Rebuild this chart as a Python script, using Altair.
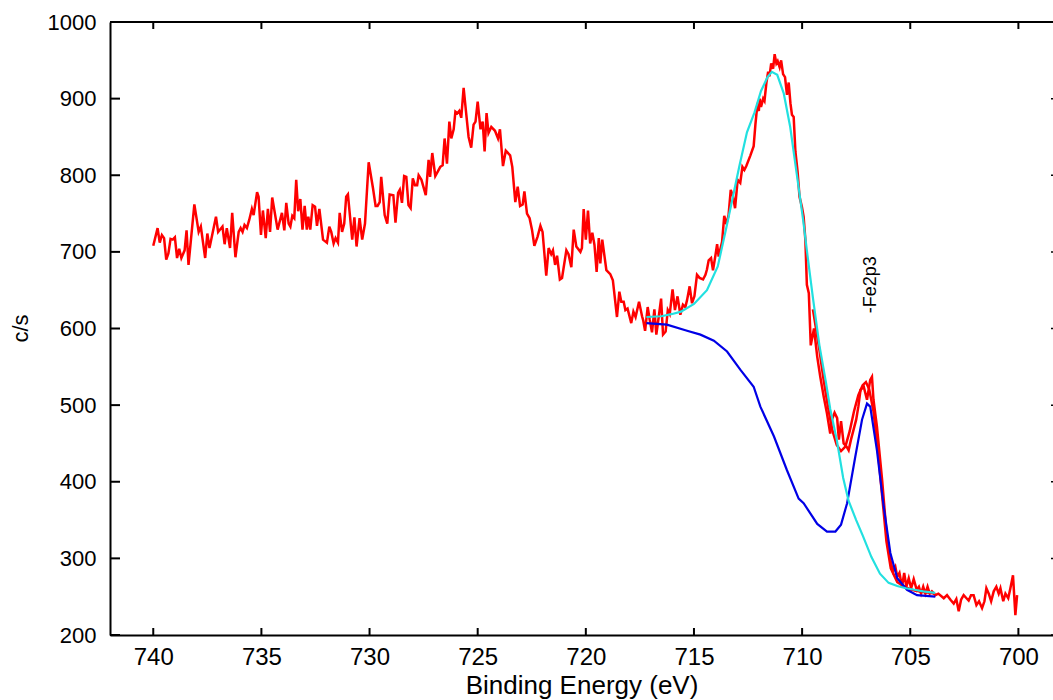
import altair as alt
import pandas as pd

# ---------------- data ----------------
red_energy = [
    740.00, 739.80, 739.70, 739.60, 739.50, 739.40, 739.30, 739.20, 739.10, 739.00,
    738.90, 738.80, 738.70, 738.55, 738.46, 738.37, 738.10, 737.90, 737.80, 737.60,
    737.50, 737.40, 737.10, 737.00, 736.80, 736.70, 736.60, 736.45, 736.35, 736.20,
    736.05, 735.96, 735.87, 735.78, 735.67, 735.56, 735.44, 735.36, 735.20, 735.13,
    735.02, 734.93, 734.80, 734.70, 734.60, 734.50, 734.25, 734.05, 733.94, 733.85,
    733.74, 733.66, 733.57, 733.48, 733.39, 733.30, 733.20, 733.10, 733.00, 732.90,
    732.83, 732.74, 732.63, 732.52, 732.43, 732.32, 732.15, 731.97, 731.86, 731.77,
    731.66, 731.57, 731.46, 731.38, 731.27, 731.17, 731.08, 731.00, 730.80, 730.70,
    730.60, 730.46, 730.34, 730.21, 730.04, 729.84, 729.72, 729.63, 729.53, 729.46,
    729.30, 729.18, 729.07, 728.90, 728.80, 728.68, 728.60, 728.50, 728.40, 728.30,
    728.20, 728.10, 728.00, 727.90, 727.80, 727.73, 727.60, 727.40, 727.27, 727.20,
    727.10, 726.96, 726.84, 726.73, 726.62, 726.53, 726.42, 726.31, 726.22, 726.11,
    726.03, 725.94, 725.85, 725.76, 725.65, 725.54, 725.42, 725.30, 725.19, 725.10,
    725.00, 724.87, 724.77, 724.68, 724.59, 724.50, 724.37, 724.20, 724.06, 723.97,
    723.83, 723.70, 723.50, 723.40, 723.26, 723.15, 723.04, 722.92, 722.84, 722.72,
    722.60, 722.49, 722.38, 722.23, 722.10, 722.00, 721.83, 721.72, 721.60, 721.52,
    721.42, 721.33, 721.20, 721.10, 720.90, 720.80, 720.67, 720.56, 720.44, 720.25,
    720.18, 720.10, 720.00, 719.90, 719.80, 719.70, 719.60, 719.50, 719.40, 719.33,
    719.24, 719.05, 718.87, 718.75, 718.56, 718.45, 718.36, 718.25, 718.17, 718.07,
    717.90, 717.80, 717.70, 717.54, 717.40, 717.35, 717.26, 717.14, 717.05, 716.94,
    716.83, 716.74, 716.63, 716.52, 716.43, 716.31, 716.21, 716.12, 715.99, 715.88,
    715.76, 715.63, 715.51, 715.40, 715.32, 715.20, 715.09, 714.98, 714.86, 714.74,
    714.58, 714.47, 714.40, 714.32, 714.21, 714.12, 714.01, 713.93, 713.86, 713.70,
    713.60, 713.50, 713.40, 713.30, 713.20, 713.10, 712.98, 712.86, 712.76, 712.67,
    712.58, 712.39, 712.24, 712.16, 712.08, 712.00, 711.96, 711.90, 711.80, 711.74,
    711.65, 711.57, 711.51, 711.43, 711.34, 711.27, 711.19, 711.13, 711.04, 710.97,
    710.88, 710.79, 710.70, 710.62, 710.54, 710.47, 710.39, 710.31, 710.21, 710.12,
    710.01, 709.93, 709.85, 709.78, 709.69, 709.60, 709.45, 709.30, 709.16, 709.00,
    708.85, 708.70, 708.62, 708.50, 708.38, 708.30, 708.20, 708.08, 707.95, 707.85,
    707.74, 707.62, 707.50, 707.40, 707.30, 707.15, 707.00, 706.85, 706.77, 706.70,
    706.54, 706.30, 706.07, 705.92, 705.80, 705.69, 705.60, 705.50, 705.38, 705.28,
    705.18, 705.07, 704.96, 704.84, 704.70, 704.60, 704.50, 704.40, 704.30, 704.20,
    704.10, 704.00, 703.84, 703.70, 703.45, 703.30, 703.14, 702.99, 702.87, 702.76,
    702.65, 702.53, 702.40, 702.30, 702.19, 702.07, 701.94, 701.82, 701.68, 701.57,
    701.48, 701.37, 701.26, 701.14, 701.02, 700.91, 700.83, 700.70, 700.60, 700.47,
    700.37, 700.25, 700.14, 700.06,
]
red_counts = [
    708, 731, 712, 722, 718, 690, 698, 717, 716, 719,
    692, 704, 692, 702, 728, 683, 762, 726, 733, 692,
    724, 705, 746, 726, 733, 710, 731, 705, 751, 693,
    726, 731, 726, 735, 731, 742, 756, 748, 778, 772,
    722, 754, 718, 756, 726, 771, 729, 751, 728, 764,
    737, 733, 747, 744, 794, 753, 769, 729, 760, 729,
    746, 729, 761, 759, 734, 756, 716, 712, 733, 726,
    711, 718, 712, 751, 726, 737, 772, 775, 716, 745,
    707, 744, 716, 737, 817, 783, 760, 760, 765, 798,
    748, 737, 775, 774, 738, 777, 781, 764, 799, 798,
    761, 757, 796, 787, 787, 800, 794, 774, 820, 798,
    829, 799, 805, 811, 813, 848, 815, 870, 848, 860,
    883, 881, 884, 875, 914, 883, 850, 836, 866, 870,
    896, 860, 870, 831, 881, 855, 863, 858, 848, 860,
    812, 832, 826, 811, 765, 785, 760, 762, 779, 750,
    744, 729, 708, 720, 734, 726, 669, 705, 697, 702,
    683, 695, 664, 666, 702, 697, 680, 729, 707, 700,
    705, 756, 716, 754, 711, 725, 709, 674, 718, 685,
    716, 676, 671, 663, 615, 648, 635, 635, 624, 626,
    607, 622, 615, 635, 616, 611, 597, 628, 612, 595,
    625, 592, 615, 639, 592, 596, 624, 619, 651, 624,
    642, 618, 631, 628, 637, 655, 633, 642, 670, 666,
    664, 670, 677, 689, 692, 676, 695, 710, 694, 713,
    747, 736, 748, 781, 773, 757, 794, 790, 811, 807,
    812, 826, 838, 866, 889, 884, 900, 889, 900, 897,
    921, 935, 929, 946, 939, 958, 946, 949, 941, 950,
    932, 928, 905, 921, 894, 879, 876, 831, 805, 772,
    759, 746, 716, 657, 646, 578, 600, 563, 537, 511,
    489, 463, 481, 490, 483, 455, 479, 450, 446, 441,
    455, 468, 481, 498, 520, 524, 507, 533, 537, 507,
    472, 402, 324, 298, 283, 289, 276, 281, 263, 281,
    263, 274, 261, 273, 259, 263, 254, 263, 254, 263,
    254, 257, 252, 254, 248, 252, 246, 241, 247, 231,
    246, 252, 248, 245, 252, 252, 239, 244, 235, 244,
    261, 254, 244, 257, 263, 254, 261, 244, 254, 248,
    261, 278, 226, 252,
]

envelope_energy = [709.5, 709.2, 709.0, 708.8, 708.6, 708.4, 708.2, 708.0, 707.8, 707.6,
                   707.4, 707.2, 707.05, 706.9, 706.7, 706.5, 706.3, 706.1, 705.9, 705.6,
                   705.2, 704.8, 704.4, 703.85]
envelope_counts = [625, 572, 532, 497, 467, 448, 440, 446, 466, 492,
                   513, 526, 530, 521, 492, 442, 382, 322, 287, 269,
                   262, 258, 256, 254]

cyan_energy = [717.2, 716.5, 716.0, 715.6, 715.0, 714.4, 713.9, 713.5, 713.2, 712.9,
               712.55, 712.2, 711.9, 711.6, 711.4, 711.15, 710.85, 710.55, 710.25, 709.95,
               709.75, 709.5, 709.2, 708.9, 708.7, 708.4, 708.1, 707.85, 707.5, 707.2,
               706.8, 706.4, 706.0, 705.6, 705.2, 704.8, 704.4, 703.85]
cyan_counts = [615, 616, 619, 622, 632, 650, 681, 732, 772, 812,
               856, 882, 910, 928, 935, 931, 907, 863, 802, 741,
               695, 640, 578, 530, 495, 455, 405, 375, 350, 330,
               302, 280, 268, 264, 261, 259, 257, 255]

blue_energy = [717.2, 716.25, 715.32, 714.7, 714.08, 713.47, 712.85, 712.24, 711.93, 711.3,
               710.7, 710.16, 709.93, 709.3, 708.85, 708.46, 708.2, 707.92, 707.54, 707.23,
               707.0, 706.85, 706.54, 706.23, 705.92, 705.6, 705.15, 704.69, 703.84]
blue_counts = [607, 605, 597, 592, 584, 570, 546, 524, 498, 459,
               415, 378, 372, 345, 335, 335, 344, 372, 433, 481,
               502, 498, 441, 368, 307, 274, 259, 252, 250]

x_ticks = [740, 735, 730, 725, 720, 715, 710, 705, 700]
y_ticks = [200, 300, 400, 500, 600, 700, 800, 900, 1000]

label_energy = [706.8]
label_counts = [657]
label_text = ["-Fe2p3"]

# ---------------- chart ----------------
W, H = 943, 613
FONT = "Liberation Sans"

xs = alt.Scale(domain=[698.4, 742], reverse=True, nice=False, zero=False)
ys = alt.Scale(domain=[200, 1000], nice=False, zero=False)

x_axis = alt.Axis(
    values=x_ticks, format="d", title="Binding Energy (eV)", grid=False,
    ticks=False, tickSize=0, domainColor="black", domainWidth=2,
    labelFont=FONT, labelFontSize=24, labelColor="black", labelPadding=10,
    labelFlush=False, labelOverlap=False,
    titleFont=FONT, titleFontSize=26, titleFontWeight="normal", titleColor="black",
    titleBaseline="alphabetic", titleY=58,
)
y_axis = alt.Axis(
    values=y_ticks, format="d", title="c/s", grid=False,
    ticks=False, tickSize=0, domainColor="black", domainWidth=2,
    labelFont=FONT, labelFontSize=22, labelColor="black", labelPadding=14,
    labelFlush=False, labelOverlap=False,
    titleFont=FONT, titleFontSize=22, titleFontWeight="normal", titleColor="black",
    titleAngle=270, titleAlign="center", titleBaseline="middle", titleX=-90, titleY=306,
)


def frame(e, c):
    return pd.DataFrame({"E": e, "C": c})


def X():
    return alt.X("E:Q", scale=xs, axis=x_axis, title="Binding Energy (eV)")


def Y():
    return alt.Y("C:Q", scale=ys, axis=y_axis, title="c/s")


red = alt.Chart(frame(red_energy, red_counts)).mark_line(color="#ff0000", strokeWidth=2.5).encode(x=X(), y=Y())
envelope = alt.Chart(frame(envelope_energy, envelope_counts)).mark_line(color="#ff0000", strokeWidth=2.5).encode(x=X(), y=Y())
blue = alt.Chart(frame(blue_energy, blue_counts)).mark_line(color="#0000e6", strokeWidth=2.2).encode(x=X(), y=Y())
cyan = alt.Chart(frame(cyan_energy, cyan_counts)).mark_line(color="#22e0e0", strokeWidth=2.2).encode(x=X(), y=Y())

xt = pd.DataFrame({"E": x_ticks})
yt = pd.DataFrame({"C": y_ticks})
bottom_ticks = alt.Chart(xt).mark_rule(color="black", strokeWidth=2).encode(
    x=X(), y=alt.value(H), y2=alt.value(H - 7))
top_ticks = alt.Chart(xt).mark_rule(color="black", strokeWidth=2).encode(
    x=X(), y=alt.value(0), y2=alt.value(7))
left_ticks = alt.Chart(yt).mark_rule(color="black", strokeWidth=2).encode(
    y=Y(), x=alt.value(0), x2=alt.value(10))
right_ticks = alt.Chart(yt).mark_rule(color="black", strokeWidth=1.5).encode(
    y=Y(), x=alt.value(W - 2), x2=alt.value(W))
top_line = alt.Chart(xt).mark_rule(color="black", strokeWidth=2).encode(
    x=alt.value(0), x2=alt.value(W), y=alt.value(0))

label = alt.Chart(pd.DataFrame({"E": label_energy, "C": label_counts, "t": label_text})).mark_text(
    angle=270, font=FONT, fontSize=18, color="black", align="center", baseline="middle"
).encode(x=X(), y=Y(), text="t:N")

chart = alt.layer(
    red, envelope, blue, cyan, bottom_ticks, top_ticks, left_ticks, right_ticks, top_line, label
).properties(
    width=W, height=H,
    padding={"left": 110, "top": 22, "right": 0, "bottom": 65},
    autosize=alt.AutoSizeParams(type="none"),
    background="white",
).configure_view(stroke=None)

chart.save("out.html", embed_options={"renderer": "svg", "actions": False})
